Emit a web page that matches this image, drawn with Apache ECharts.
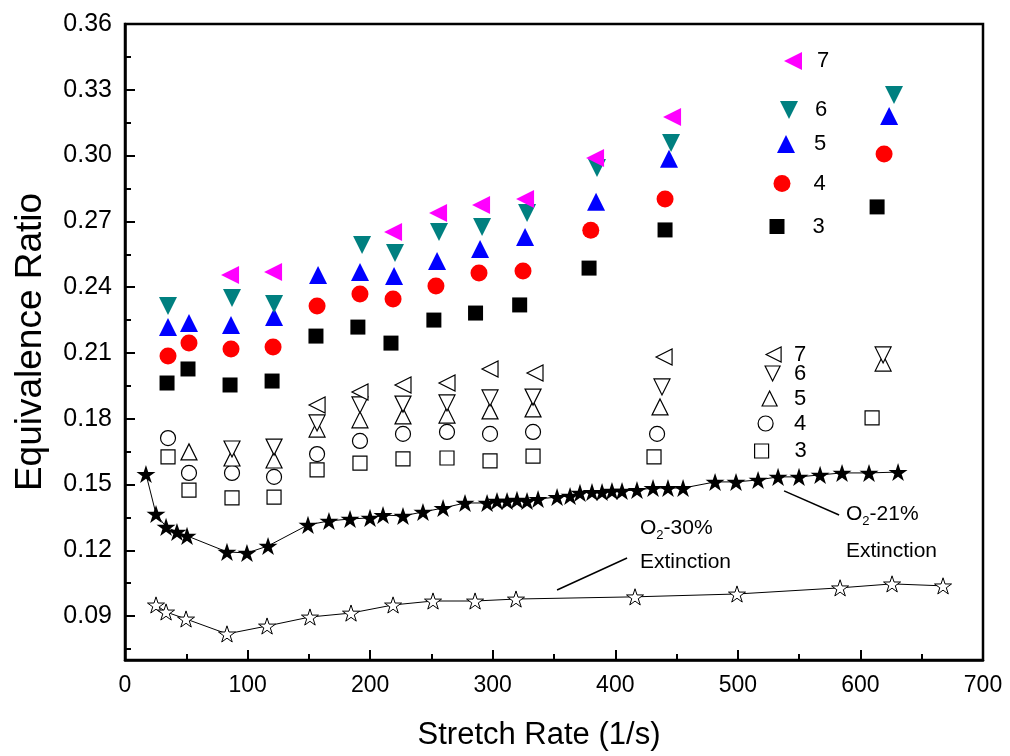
<!DOCTYPE html>
<html>
<head>
<meta charset="utf-8">
<script src="https://cdn.jsdelivr.net/npm/echarts@6/dist/echarts.min.js"></script>
<style>
html,body{margin:0;padding:0;background:#fff;}
#chart{width:1010px;height:756px;}
</style>
</head>
<body>
<div id="chart"></div>
<script>
// ---- Data (stretch rate in 1/s, equivalence ratio) ----
// Filled symbols, series 3..7
const sr3 = [34.3, 51.4, 85.7, 120.0, 155.8, 190.0, 217.0, 252.0, 286.0, 322.0, 378.6, 440.6, 613.6];
const er3 = [0.1963, 0.2027, 0.1954, 0.1972, 0.2177, 0.2218, 0.2145, 0.2250, 0.2282, 0.2319, 0.2487, 0.2661, 0.2766];
const sr4 = [35.1, 52.2, 86.5, 120.8, 156.7, 191.7, 218.7, 253.7, 288.8, 324.7, 380.0, 440.6, 619.3];
const er4 = [0.2086, 0.2145, 0.2118, 0.2127, 0.2314, 0.2369, 0.2346, 0.2405, 0.2465, 0.2474, 0.2660, 0.2802, 0.3007];
const sr5 = [35.1, 52.2, 86.5, 121.6, 157.5, 191.7, 219.5, 254.6, 289.7, 326.4, 384.3, 443.8, 623.4];
const er5 = [0.2218, 0.2237, 0.2228, 0.2264, 0.2456, 0.2469, 0.2451, 0.2519, 0.2574, 0.2629, 0.2790, 0.2986, 0.3181];
const sr6 = [35.1, 87.3, 121.6, 193.4, 220.3, 256.2, 291.3, 328.0, 385.1, 445.5, 627.4];
const er6 = [0.2314, 0.2351, 0.2323, 0.2592, 0.2556, 0.2652, 0.2674, 0.2738, 0.2943, 0.3057, 0.3276];
const sr7 = [85.7, 120.8, 218.7, 255.4, 290.5, 326.4, 383.5, 446.3];
const er7 = [0.2456, 0.2469, 0.2652, 0.2738, 0.2775, 0.2802, 0.2989, 0.3176];

// Open symbols, series 3..7
const osr3 = [35.1, 52.2, 87.3, 121.6, 156.7, 191.7, 226.8, 262.7, 297.8, 332.9, 431.6, 609.5];
const oer3 = [0.1626, 0.1475, 0.1439, 0.1443, 0.1567, 0.1598, 0.1617, 0.1621, 0.1608, 0.1630, 0.1626, 0.1804];
const osr4 = [35.1, 52.2, 87.3, 121.6, 156.7, 191.7, 226.8, 262.7, 297.8, 332.9, 434.1];
const oer4 = [0.1712, 0.1553, 0.1553, 0.1535, 0.1639, 0.1699, 0.1731, 0.1740, 0.1731, 0.1740, 0.1731];
const osr5 = [52.2, 87.3, 121.6, 156.7, 191.7, 226.8, 262.7, 297.8, 332.9, 436.5, 618.5];
const oer5 = [0.1649, 0.1621, 0.1612, 0.1753, 0.1795, 0.1813, 0.1817, 0.1836, 0.1845, 0.1854, 0.2054];
const osr6 = [87.3, 121.6, 156.7, 191.7, 226.8, 262.7, 297.8, 332.9, 438.1, 618.5];
const oer6 = [0.1662, 0.1671, 0.1781, 0.1863, 0.1867, 0.1872, 0.1895, 0.1899, 0.1945, 0.2091];
const osr7 = [156.7, 191.7, 226.8, 262.7, 297.8, 334.5, 439.8];
const oer7 = [0.1863, 0.1922, 0.1954, 0.1963, 0.2027, 0.2009, 0.2082];

// Extinction limits
const sr21 = [17.1, 25.3, 33.5, 42.4, 50.6, 83.2, 99.5, 116.7, 149.3, 166.4, 183.6, 199.9, 210.5, 226.8, 243.1, 259.5, 277.4, 295.4, 303.5, 311.7, 319.8, 328.0, 337.0, 352.5, 363.1, 371.2, 381.0, 389.2, 397.3, 405.5, 417.7, 430.8, 443.0, 455.3, 481.4, 498.5, 516.5, 532.8, 549.9, 567.1, 585.0, 607.0, 630.7];
const er21 = [0.1548, 0.1366, 0.1307, 0.1284, 0.1266, 0.1193, 0.1188, 0.1220, 0.1316, 0.1334, 0.1343, 0.1348, 0.1361, 0.1357, 0.1375, 0.1393, 0.1416, 0.1416, 0.1425, 0.1425, 0.1430, 0.1425, 0.1434, 0.1443, 0.1448, 0.1462, 0.1466, 0.1466, 0.1471, 0.1471, 0.1475, 0.1484, 0.1484, 0.1484, 0.1512, 0.1512, 0.1521, 0.1535, 0.1535, 0.1544, 0.1553, 0.1553, 0.1557];
const sr30 = [25.3, 33.5, 49.8, 83.2, 115.9, 150.9, 184.4, 218.7, 251.3, 285.6, 319.0, 416.1, 499.3, 583.4, 625.8, 667.4];
const er30 = [0.0951, 0.0919, 0.0887, 0.0819, 0.0855, 0.0896, 0.0914, 0.0951, 0.0969, 0.0969, 0.0978, 0.0988, 0.1001, 0.1029, 0.1047, 0.1038];

// Axis ticks
const yTickLabels = [0.09, 0.12, 0.15, 0.18, 0.21, 0.24, 0.27, 0.30, 0.33, 0.36];
const yMinorTicks = [0.075, 0.105, 0.135, 0.165, 0.195, 0.225, 0.255, 0.285, 0.315, 0.345];

// Leader lines for annotations (data units)
const lead30 = [[352.5, 0.1019], [409.6, 0.1165]];
const lead21 = [[537.7, 0.1471], [582.6, 0.1361]];

const zip = (xs, ys) => xs.map((x, i) => [x, ys[i]]);
const FONT = "'Liberation Sans', Arial, sans-serif";
const STAR = 'path://M0,-100L22.45,-30.9L95.1,-30.9L36.3,11.8L58.8,80.9L0,38.2L-58.8,80.9L-36.3,11.8L-95.1,-30.9L-22.45,-30.9Z';
const TRI_UP = 'path://M50,0L100,100L0,100Z';
const TRI_DOWN = 'path://M0,0L100,0L50,100Z';
const TRI_LEFT = 'path://M0,50L100,0L100,100Z';

function filled(name, xs, ys, color, symbol, size) {
  return { name: name, type: 'scatter', xAxisIndex: 0, yAxisIndex: 0,
    data: zip(xs, ys), symbol: symbol, symbolSize: size,
    itemStyle: { color: color, opacity: 1 }, z: 4 };
}
function open(name, xs, ys, symbol, size) {
  return { name: name, type: 'scatter', xAxisIndex: 0, yAxisIndex: 0,
    data: zip(xs, ys), symbol: symbol, symbolSize: size,
    itemStyle: { color: '#ffffff', borderColor: '#000000', borderWidth: 1.2, opacity: 1 }, z: 4 };
}
function leg(name, icon, cx, cy, s, padTop, padLeft, isOpen) {
  return { show: true, data: [{ name: name, icon: icon }], orient: 'vertical', left: cx - s / 2, top: cy - s / 2, padding: 0,
    itemWidth: s, itemHeight: s, selectedMode: false,
    itemStyle: isOpen ? { borderColor: '#000', borderWidth: 1.2 } : { borderWidth: 0 },
    textStyle: { fontFamily: FONT, fontSize: 22, color: '#000', padding: [padTop, 0, 0, padLeft] } };
}

const chart = echarts.init(document.getElementById('chart'), null, { renderer: 'canvas' });
chart.setOption({
  animation: false,
  backgroundColor: '#ffffff',
  grid: { left: 125, right: 27, top: 24, bottom: 95, show: true, borderColor: '#000', borderWidth: 2.5, backgroundColor: 'transparent' },
  xAxis: [{
    type: 'value', min: 0, max: 700, interval: 100, position: 'bottom',
    name: 'Stretch Rate (1/s)', nameLocation: 'middle', nameGap: 60,
    nameTextStyle: { fontFamily: FONT, fontSize: 31, color: '#000', padding: [0, 30, 0, 0] },
    axisLine: { show: true, onZero: false, lineStyle: { color: '#000', width: 2.5 } },
    axisTick: { show: true, inside: true, length: 10, lineStyle: { color: '#000', width: 2 } },
    minorTick: { show: true, splitNumber: 2, length: 6, lineStyle: { color: '#000', width: 2 } },
    axisLabel: { fontFamily: FONT, fontSize: 23, color: '#000', margin: 14 },
    splitLine: { show: false }
  }],
  yAxis: [{
    type: 'value', min: 0.07, max: 0.36, position: 'left',
    name: 'Equivalence Ratio', nameLocation: 'middle', nameGap: 76,
    nameTextStyle: { fontFamily: FONT, fontSize: 37, color: '#000' },
    axisLine: { show: true, onZero: false, lineStyle: { color: '#000', width: 2.5 } },
    axisTick: { show: true, inside: true, length: 10, customValues: yTickLabels, lineStyle: { color: '#000', width: 2 } },
    axisLabel: { fontFamily: FONT, fontSize: 25, color: '#000', margin: 13, customValues: yTickLabels,
      formatter: v => v.toFixed(2) },
    splitLine: { show: false }
  }, {
    type: 'value', min: 0.07, max: 0.36, position: 'left', offset: 0,
    axisLine: { show: false },
    axisTick: { show: true, inside: true, length: 6, customValues: yMinorTicks, lineStyle: { color: '#000', width: 2 } },
    axisLabel: { show: false },
    splitLine: { show: false }
  }],
  legend: [
    leg('7', TRI_LEFT, 793, 59, 18, 0, 10, false),
    leg('6', TRI_DOWN, 789, 108, 18, 0, 12, false),
    leg('5', TRI_UP, 786, 142, 18, 10, 14, false),
    leg('4', 'circle', 782, 181, 17, 4, 18, false),
    leg('3', 'rect', 777, 223, 15, 0, 23, false),
    leg('7 ', TRI_LEFT, 773, 351, 15, 8, 8, true),
    leg('6 ', TRI_DOWN, 772, 370, 15, 26, 9, true),
    leg('5 ', TRI_UP, 769, 395, 15, 20, 12, true),
    leg('4 ', 'circle', 765, 420, 15, 24, 16, true),
    leg('3 ', 'rect', 761, 447, 14, 20, 21, true)
  ],
  series: [
    {
      name: 'O2-21% Extinction', type: 'line', data: zip(sr21, er21),
      symbol: STAR, symbolSize: 19, symbolKeepAspect: true,
      itemStyle: { color: '#000' }, lineStyle: { color: '#000', width: 1 }, z: 3,
      markLine: {
        silent: true, symbol: ['none', 'none'], label: { show: false },
        lineStyle: { color: '#000', width: 1.5, type: 'solid' },
        data: [[{ coord: lead21[0] }, { coord: lead21[1] }]]
      }
    },
    {
      name: 'O2-30% Extinction', type: 'line', data: zip(sr30, er30),
      symbol: STAR, symbolSize: 17, symbolKeepAspect: true,
      itemStyle: { color: '#ffffff', borderColor: '#000', borderWidth: 1 },
      lineStyle: { color: '#000', width: 1 }, z: 3,
      markLine: {
        silent: true, symbol: ['none', 'none'], label: { show: false },
        lineStyle: { color: '#000', width: 1.5, type: 'solid' },
        data: [[{ coord: lead30[0] }, { coord: lead30[1] }]]
      }
    },
    open('3 ', osr3, oer3, 'rect', 14),
    open('4 ', osr4, oer4, 'circle', 15),
    open('5 ', osr5, oer5, TRI_UP, 16),
    open('6 ', osr6, oer6, TRI_DOWN, 16),
    open('7 ', osr7, oer7, TRI_LEFT, 16),
    filled('3', sr3, er3, '#000000', 'rect', 15),
    filled('4', sr4, er4, '#ff0000', 'circle', 17),
    filled('5', sr5, er5, '#0000ff', TRI_UP, 18),
    filled('6', sr6, er6, '#008080', TRI_DOWN, 18),
    filled('7', sr7, er7, '#ff00ff', TRI_LEFT, 18)
  ],
  graphic: [
    { type: 'text', left: 640, top: 518, z: 10, style: { text: '{a|O}{s|2}{a|-30%}', fill: '#000', font: '21px ' + FONT,
      rich: { a: { fontFamily: FONT, fontSize: 21, lineHeight: 26, fill: '#000' }, s: { fontFamily: FONT, fontSize: 13, lineHeight: 13, verticalAlign: 'bottom', fill: '#000' } } } },
    { type: 'text', left: 640, top: 552, z: 10, style: { text: 'Extinction', fill: '#000', font: '21px ' + FONT } },
    { type: 'text', left: 846, top: 504, z: 10, style: { text: '{a|O}{s|2}{a|-21%}', fill: '#000', font: '21px ' + FONT,
      rich: { a: { fontFamily: FONT, fontSize: 21, lineHeight: 26, fill: '#000' }, s: { fontFamily: FONT, fontSize: 13, lineHeight: 13, verticalAlign: 'bottom', fill: '#000' } } } },
    { type: 'text', left: 846, top: 541, z: 10, style: { text: 'Extinction', fill: '#000', font: '21px ' + FONT } }
  ]
});
</script>
</body>
</html>
